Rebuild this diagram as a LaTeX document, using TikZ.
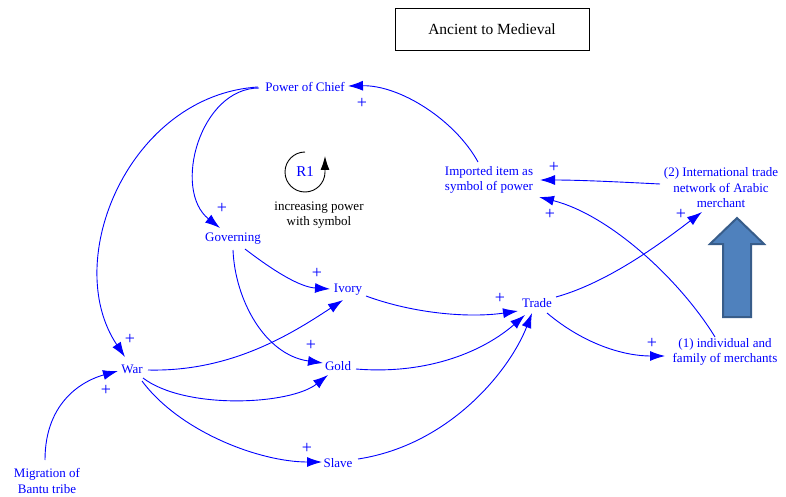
\documentclass[tikz,border=0pt]{standalone}
\usepackage{fontspec}
\setmainfont{Liberation Serif}
\usetikzlibrary{arrows.meta,calc}
\definecolor{lnk}{RGB}{0,0,255}
\definecolor{arrfill}{RGB}{79,129,189}
\definecolor{arredge}{RGB}{56,93,138}
\begin{document}
\begin{tikzpicture}[x=1pt,y=-1pt,
  var/.style={text=lnk,font=\fontsize{13}{15.5}\selectfont,align=center,inner sep=1.5pt},
  note/.style={text=black,font=\fontsize{13}{15.5}\selectfont,align=center,inner sep=1.5pt},
  link/.style={draw=lnk,line width=0.9pt,-{Latex[length=15pt,width=10pt]}},
  pol/.style={text=lnk,font=\fontsize{18}{18}\selectfont,inner sep=0pt},
]
\useasboundingbox[fill=white] (0,0) rectangle (786,497);

% title box
\node[draw=black,line width=0.8pt,minimum width=194pt,minimum height=42pt,
      font=\fontsize{15.5}{18}\selectfont] (title) at (492,29) {Ancient to Medieval};

% variables
\node[var] (pc)   at (305,87)  {Power of Chief};
\node[var] (gov)  at (233,239) {Governing};
\node[var] (ivory) at (348,290) {Ivory};
\node[var] (trade) at (537,303) {Trade};
\node[var] (war)  at (132,369) {War};
\node[var] (gold) at (338,366) {Gold};
\node[var] (slave) at (338,463) {Slave};
\node[var] (mig)  at (47,481)  {Migration of\\Bantu tribe};
\node[var] (imp)  at (489,180) {Imported item as\\symbol of power};
\node[var] (intl) at (721,188) {(2) International trade\\network of Arabic\\merchant};
\node[var] (ind)  at (725,352) {(1) individual and\\family of merchants};

% loop marker
\node[text=lnk,font=\fontsize{15}{15}\selectfont,inner sep=0pt] (r1) at (305,172) {R1};
\draw[black,line width=0.9pt,-{Latex[length=14pt,width=9pt]}]
  ($(r1)+(0,-20)$) arc[start angle=270,end angle=0,radius=20] -- ++(0,-16);
\node[note] (loopname) at (319,215) {increasing power\\with symbol};

% block arrow
\draw[fill=arrfill,draw=arredge,line width=2pt,line join=miter]
  (723,317) -- (723,244) -- (710,244) -- (737,218) -- (764,244) -- (751,244) -- (751,317) -- cycle;

% causal links
\draw[link] ($(imp)+(-11,-18)$) .. controls (455,120) and (400,85) .. ($(pc)+(43,-1)$);
\draw[link] ($(pc)+(-46,1)$) .. controls (200,88) and (172,190) .. ($(gov)+(-13,-11)$);
\draw[link] ($(pc)+(-47,0)$) .. controls (130,95) and (60,260) .. ($(war)+(-7,-12)$);
\draw[link] ($(gov)+(12,10)$) .. controls (275,272) and (300,287) .. ($(ivory)+(-18,-1)$);
\draw[link] ($(gov)+(0,11)$) .. controls (235,300) and (265,355) .. ($(gold)+(-15,-3)$);
\draw[link] ($(war)+(16,1)$) .. controls (230,372) and (290,335) .. ($(ivory)+(-5,10)$);
\draw[link] ($(war)+(11,9)$) .. controls (185,410) and (290,405) .. ($(gold)+(-10,9)$);
\draw[link] ($(war)+(10,12)$) .. controls (180,432) and (260,462) .. ($(slave)+(-16,-1)$);
\draw[link] ($(mig)+(-2,-21)$) .. controls (45,400) and (85,380) .. ($(war)+(-14,2)$);
\draw[link] ($(ivory)+(18,6)$) .. controls (415,314) and (470,318) .. ($(trade)+(-19,8)$);
\draw[link] ($(gold)+(18,3)$) .. controls (430,375) and (485,350) .. ($(trade)+(-12,12)$);
\draw[link] ($(slave)+(20,-4)$) .. controls (450,445) and (510,370) .. ($(trade)+(-5,10)$);
\draw[link] ($(trade)+(19,-6)$) .. controls (610,282) and (665,240) .. ($(intl)+(-19,24)$);
\draw[link] ($(trade)+(10,10)$) .. controls (585,345) and (625,356) .. ($(ind)+(-60,4)$);
\draw[link] ($(intl)+(-61,-4)$) .. controls (620,182) and (580,180) .. ($(imp)+(51,0)$);
\draw[link] ($(ind)+(-10,-15)$) .. controls (680,280) and (610,215) .. ($(imp)+(50,17)$);

% polarities
\node[pol] (p1)  at (362,103) {+};
\node[pol] (p2)  at (222,208) {+};
\node[pol] (p3)  at (130,339) {+};
\node[pol] (p4)  at (317,273) {+};
\node[pol] (p5)  at (311,345) {+};
\node[pol] (p6)  at (307,448) {+};
\node[pol] (p7)  at (106,390) {+};
\node[pol] (p8)  at (500,298) {+};
\node[pol] (p9)  at (681,214) {+};
\node[pol] (p10) at (652,343) {+};
\node[pol] (p11) at (554,167) {+};
\node[pol] (p12) at (550,214) {+};
\end{tikzpicture}
\end{document}
